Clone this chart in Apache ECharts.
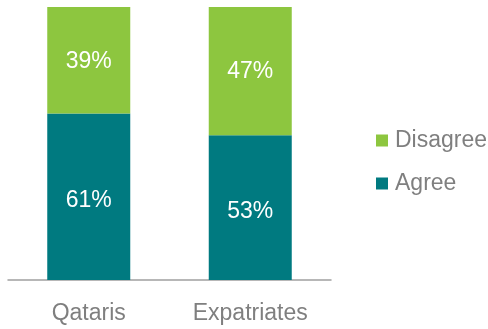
<!DOCTYPE html>
<html>
<head>
<meta charset="utf-8">
<script src="https://cdn.jsdelivr.net/npm/echarts@6/dist/echarts.min.js"></script>
<style>
  html, body { margin: 0; padding: 0; background: #ffffff; }
  #chart { width: 488px; height: 329px; }
</style>
</head>
<body>
<div id="chart"></div>
<script>
// Survey response shares by group (percent)
const categories = ['Qataris', 'Expatriates'];
const agree = [61, 53];
const disagree = [39, 47];
const seriesNames = ['Agree', 'Disagree'];

const FONT = '"Liberation Sans", Arial, sans-serif';
const GREEN = '#8dc63f';
const TEAL = '#007a80';

const chart = echarts.init(document.getElementById('chart'), null, { renderer: 'canvas' });

function segLabel(dy) {
  return {
    show: true,
    position: 'inside',
    offset: [0, dy],
    color: '#ffffff',
    fontSize: 23,
    fontFamily: FONT,
    formatter: p => p.value + '%'
  };
}

chart.setOption({
  animation: false,
  backgroundColor: '#ffffff',
  grid: { left: 8, right: 157, top: 7, bottom: 49, containLabel: false },
  legend: {
    orient: 'vertical',
    left: 371,
    top: 124,
    data: [seriesNames[1], seriesNames[0]],
    itemWidth: 12,
    itemHeight: 12,
    itemGap: 20,
    icon: 'rect',
    textStyle: { color: '#7f7f7f', fontSize: 23, fontFamily: FONT, padding: [0, 0, 0, 2] }
  },
  xAxis: {
    type: 'category',
    data: categories,
    axisLine: { show: true, lineStyle: { color: '#a0a0a0', width: 1.5 } },
    axisTick: { show: false },
    axisLabel: { color: '#7f7f7f', fontSize: 23, fontFamily: FONT, margin: 22 }
  },
  yAxis: {
    type: 'value',
    min: 0,
    max: 100,
    show: false,
    splitLine: { show: false }
  },
  series: [
    {
      name: seriesNames[0],
      type: 'bar',
      stack: 'total',
      data: agree,
      barWidth: 83,
      itemStyle: { color: TEAL },
      label: segLabel(4)
    },
    {
      name: seriesNames[1],
      type: 'bar',
      stack: 'total',
      data: disagree,
      barWidth: 83,
      itemStyle: { color: GREEN },
      label: segLabel(1)
    }
  ]
});
</script>
</body>
</html>
